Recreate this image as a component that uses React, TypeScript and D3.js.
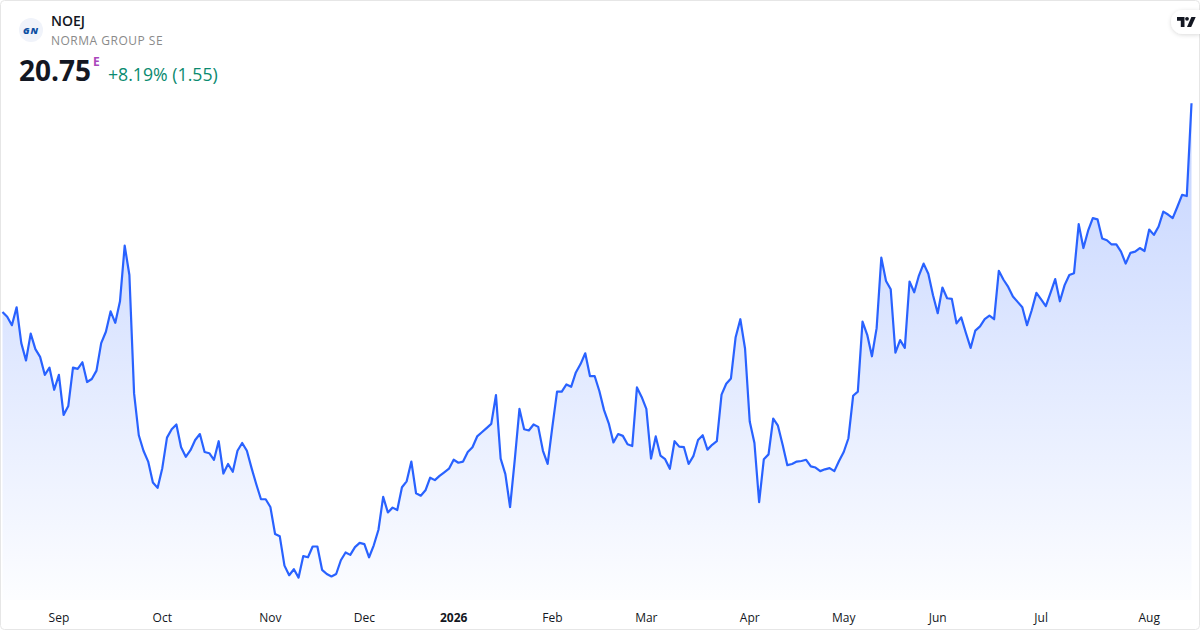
import { useEffect, useRef } from "react";
import * as d3 from "d3";

const width = 1200;
const height = 630;

const ticker = "NOEJ";
const companyName = "NORMA GROUP SE";
const lastPrice = "20.75";
const priceChange = "+8.19% (1.55)";

const monthLabels = ["Sep", "Oct", "Nov", "Dec", "2026", "Feb", "Mar", "Apr", "May", "Jun", "Jul", "Aug"];
// index of the session each month label sits under
const monthTicks = [12, 34, 57, 77, 96, 117, 137, 159, 179, 199, 221, 244];

const closes = [
  17.26, 17.18, 17.04, 17.34, 16.74, 16.45, 16.9, 16.64, 16.51, 16.21, 16.33, 15.96, 16.21, 15.54, 15.69, 16.33,
  16.31, 16.42, 16.09, 16.14, 16.28, 16.74, 16.93, 17.27, 17.08, 17.44, 18.37, 17.88, 15.9, 15.2, 14.94, 14.76,
  14.41, 14.32, 14.65, 15.16, 15.3, 15.38, 15.0, 14.84, 14.95, 15.12, 15.22, 14.92, 14.9, 14.79, 15.1, 14.56,
  14.72, 14.59, 14.94, 15.07, 14.94, 14.65, 14.38, 14.13, 14.13, 14.0, 13.55, 13.51, 13.02, 12.86, 12.96, 12.82,
  13.18, 13.16, 13.34, 13.34, 12.95, 12.88, 12.84, 12.88, 13.11, 13.24, 13.2, 13.33, 13.4, 13.38, 13.16, 13.36,
  13.62, 14.17, 13.91, 13.99, 13.95, 14.33, 14.43, 14.76, 14.23, 14.19, 14.28, 14.49, 14.45, 14.52, 14.58, 14.64,
  14.79, 14.74, 14.76, 14.92, 15.0, 15.18, 15.25, 15.32, 15.39, 15.87, 14.81, 14.55, 14.0, 14.79, 15.64, 15.3,
  15.28, 15.38, 15.34, 14.94, 14.72, 15.34, 15.93, 15.93, 16.05, 16.01, 16.25, 16.39, 16.57, 16.19, 16.19, 15.94,
  15.62, 15.4, 15.08, 15.22, 15.19, 15.05, 15.02, 16.0, 15.84, 15.64, 14.81, 15.18, 14.86, 14.8, 14.64, 15.1,
  15.01, 15.0, 14.72, 14.85, 15.12, 15.2, 14.96, 15.04, 15.1, 15.88, 16.06, 16.15, 16.84, 17.14, 16.65, 15.43,
  15.07, 14.08, 14.8, 14.88, 15.48, 15.36, 15.04, 14.7, 14.72, 14.76, 14.77, 14.79, 14.68, 14.66, 14.6, 14.63,
  14.65, 14.6, 14.77, 14.92, 15.15, 15.86, 15.93, 17.1, 16.88, 16.52, 16.99, 18.17, 17.78, 17.64, 16.58, 16.79,
  16.66, 17.77, 17.59, 17.87, 18.07, 17.9, 17.54, 17.24, 17.67, 17.49, 17.48, 17.07, 17.17, 16.91, 16.66, 16.95,
  17.02, 17.14, 17.2, 17.14, 17.95, 17.8, 17.68, 17.52, 17.43, 17.34, 17.04, 17.29, 17.58, 17.47, 17.36, 17.58,
  17.81, 17.44, 17.71, 17.88, 17.91, 18.73, 18.33, 18.62, 18.83, 18.81, 18.49, 18.46, 18.39, 18.39, 18.27, 18.07,
  18.25, 18.27, 18.33, 18.28, 18.64, 18.55, 18.69, 18.94, 18.89, 18.83, 19.02, 19.22, 19.2, 20.75,
];

const font = "'Open Sans', sans-serif";

export default function App() {
  const axisRef = useRef<SVGGElement>(null);

  const x = d3.scaleLinear([0, closes.length - 1], [2.5, 1191.5]);
  const y = d3.scaleLinear([12.82, 20.75], [577.6, 103.3]);

  const line = d3
    .line<number>()
    .x((_, i) => x(i))
    .y((d) => y(d));
  const area = d3
    .area<number>()
    .x((_, i) => x(i))
    .y0(600)
    .y1((d) => y(d));

  useEffect(() => {
    const xAxis = d3
      .axisBottom(x)
      .tickValues(monthTicks)
      .tickSize(0)
      .tickPadding(0)
      .tickFormat((_, i) => monthLabels[i]);

    d3.select(axisRef.current!)
      .call(xAxis as any)
      .call((g) => g.select(".domain").remove())
      .call((g) =>
        g
          .selectAll("text")
          .attr("dy", 0)
          .attr("y", 0)
          .attr("fill", "#131722")
          .attr("font-size", 12)
          .attr("font-family", font)
          .attr("font-weight", (_, i) => (monthLabels[i] === "2026" ? 700 : 400))
      );
  }, []);

  return (
    <svg
      width={width}
      height={height}
      viewBox={`0 0 ${width} ${height}`}
      style={{ position: "absolute", top: 0, left: 0, fontFamily: font }}
    >
      <defs>
        <linearGradient id="areaFill" gradientUnits="userSpaceOnUse" x1={0} x2={0} y1={103} y2={600}>
          <stop offset="0%" stopColor="#2962ff" stopOpacity={0.28} />
          <stop offset="100%" stopColor="#2962ff" stopOpacity={0.012} />
        </linearGradient>
        <filter id="tabShadow" x="-30%" y="-30%" width="160%" height="180%">
          <feDropShadow dx={0} dy={1} stdDeviation={2} floodColor="#000" floodOpacity={0.15} />
        </filter>
      </defs>

      <rect x={0} y={0} width={width} height={height} fill="#fff" />

      <path d={area(closes)!} fill="url(#areaFill)" />
      <path d={line(closes)!} fill="none" stroke="#2962ff" strokeWidth={2.2} strokeLinejoin="round" />

      <g ref={axisRef} transform="translate(-0.5,622)" />

      <rect x={0.5} y={0.5} width={width - 1} height={height - 1} rx={4} fill="none" stroke="#e6e6e6" />

      {/* symbol header */}
      <circle cx={31} cy={30} r={12} fill="#f0f3fa" />
      <text
        x={31}
        y={33.5}
        textAnchor="middle"
        fontSize={9.5}
        fontWeight={800}
        fontStyle="italic"
        letterSpacing={1}
        fill="#0b4ea2"
      >
        GN
      </text>
      <text x={51} y={26} fontSize={14} fontWeight={600} fill="#131722">
        {ticker}
      </text>
      <text x={51} y={45} fontSize={12} letterSpacing={0.5} fill="#8a8a8a">
        {companyName}
      </text>
      <text x={19} y={81} fontSize={28} fontWeight={700} fill="#131722">
        {lastPrice}
      </text>
      <text x={93} y={66} fontSize={12} fontWeight={700} fill="#ab47bc">
        E
      </text>
      <text x={108} y={81} fontSize={17.7} fill="#0a8a6f">
        {priceChange}
      </text>

      {/* TradingView tab */}
      <path
        d="M1200 10H1183a12 12 0 0 0 -12 12a12 12 0 0 0 12 12H1200Z"
        fill="#fff"
        filter="url(#tabShadow)"
      />
      <g transform="translate(1177,16.5)" fill="#131722">
        <path d="M7.5 10.5H3.8V4.2H0V0.4H7.5Z" />
        <circle cx={10} cy={2.3} r={1.9} />
        <path d="M14.4 0.4H18.7L14.2 10.5H10Z" />
      </g>
    </svg>
  );
}
